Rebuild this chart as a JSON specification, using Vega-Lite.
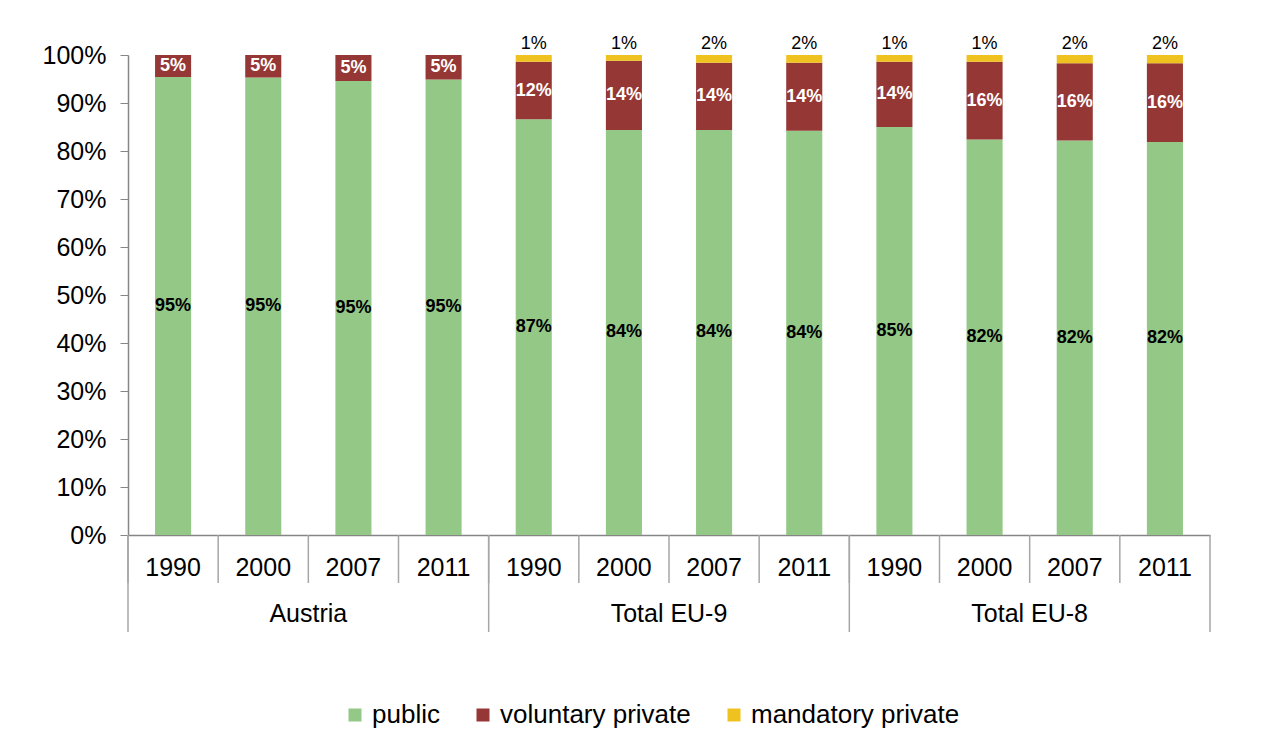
{
  "$schema": "https://vega.github.io/schema/vega-lite/v6.json",
  "width": 1082,
  "height": 480,
  "autosize": {"type": "none"},
  "padding": {"left": 128, "top": 55, "right": 59, "bottom": 208},
  "background": "white",
  "config": {
    "view": {"stroke": null},
    "font": "Liberation Sans",
    "text": {"font": "Liberation Sans"}
  },
  "data": {
    "values": [
      {"region": "Austria", "year": "1990", "type": "public", "value": 0.954},
      {"region": "Austria", "year": "1990", "type": "voluntary private", "value": 0.046},
      {"region": "Austria", "year": "2000", "type": "public", "value": 0.953},
      {"region": "Austria", "year": "2000", "type": "voluntary private", "value": 0.047},
      {"region": "Austria", "year": "2007", "type": "public", "value": 0.946},
      {"region": "Austria", "year": "2007", "type": "voluntary private", "value": 0.054},
      {"region": "Austria", "year": "2011", "type": "public", "value": 0.949},
      {"region": "Austria", "year": "2011", "type": "voluntary private", "value": 0.051},
      {"region": "Total EU-9", "year": "1990", "type": "public", "value": 0.866},
      {"region": "Total EU-9", "year": "1990", "type": "voluntary private", "value": 0.12},
      {"region": "Total EU-9", "year": "1990", "type": "mandatory private", "value": 0.014},
      {"region": "Total EU-9", "year": "2000", "type": "public", "value": 0.844},
      {"region": "Total EU-9", "year": "2000", "type": "voluntary private", "value": 0.144},
      {"region": "Total EU-9", "year": "2000", "type": "mandatory private", "value": 0.012},
      {"region": "Total EU-9", "year": "2007", "type": "public", "value": 0.844},
      {"region": "Total EU-9", "year": "2007", "type": "voluntary private", "value": 0.14},
      {"region": "Total EU-9", "year": "2007", "type": "mandatory private", "value": 0.016},
      {"region": "Total EU-9", "year": "2011", "type": "public", "value": 0.842},
      {"region": "Total EU-9", "year": "2011", "type": "voluntary private", "value": 0.142},
      {"region": "Total EU-9", "year": "2011", "type": "mandatory private", "value": 0.016},
      {"region": "Total EU-8", "year": "1990", "type": "public", "value": 0.85},
      {"region": "Total EU-8", "year": "1990", "type": "voluntary private", "value": 0.136},
      {"region": "Total EU-8", "year": "1990", "type": "mandatory private", "value": 0.014},
      {"region": "Total EU-8", "year": "2000", "type": "public", "value": 0.824},
      {"region": "Total EU-8", "year": "2000", "type": "voluntary private", "value": 0.162},
      {"region": "Total EU-8", "year": "2000", "type": "mandatory private", "value": 0.014},
      {"region": "Total EU-8", "year": "2007", "type": "public", "value": 0.822},
      {"region": "Total EU-8", "year": "2007", "type": "voluntary private", "value": 0.161},
      {"region": "Total EU-8", "year": "2007", "type": "mandatory private", "value": 0.017},
      {"region": "Total EU-8", "year": "2011", "type": "public", "value": 0.819},
      {"region": "Total EU-8", "year": "2011", "type": "voluntary private", "value": 0.164},
      {"region": "Total EU-8", "year": "2011", "type": "mandatory private", "value": 0.017}
    ]
  },
  "transform": [
    {"calculate": "datum.region + '|' + datum.year", "as": "key"},
    {"calculate": "indexof(['public','voluntary private','mandatory private'], datum.type)", "as": "ord"},
    {"stack": "value", "groupby": ["key"], "sort": [{"field": "ord", "order": "ascending"}], "as": ["v0", "v1"]},
    {"calculate": "(datum.v0 + datum.v1) / 2", "as": "mid"}
  ],
  "encoding": {
    "x": {
      "field": "key",
      "type": "nominal",
      "scale": {
        "domain": ["Austria|1990", "Austria|2000", "Austria|2007", "Austria|2011",
                   "Total EU-9|1990", "Total EU-9|2000", "Total EU-9|2007", "Total EU-9|2011",
                   "Total EU-8|1990", "Total EU-8|2000", "Total EU-8|2007", "Total EU-8|2011"],
        "paddingInner": 0,
        "paddingOuter": 0
      },
      "axis": {
        "title": null,
        "labelExpr": "split(datum.label, '|')[1]",
        "labelAngle": 0,
        "labelFontSize": 25,
        "labelColor": "#000000",
        "labelPadding": 20,
        "ticks": false,
        "domainColor": "#868686",
        "domainWidth": 1.5
      }
    }
  },
  "layer": [
    {
      "mark": {"type": "bar", "width": {"band": 0.4}},
      "encoding": {
        "y": {
          "field": "v0",
          "type": "quantitative",
          "scale": {"domain": [0, 1], "nice": false},
          "axis": {
            "title": null,
            "format": ".0%",
            "values": [0, 0.1, 0.2, 0.3, 0.4, 0.5, 0.6, 0.7, 0.8, 0.9, 1],
            "grid": false,
            "labelFontSize": 25,
            "labelColor": "#000000",
            "labelPadding": 14,
            "tickSize": 8,
            "tickColor": "#868686",
            "domainColor": "#868686",
            "domainWidth": 1.5
          }
        },
        "y2": {"field": "v1"},
        "color": {
          "field": "type",
          "type": "nominal",
          "sort": ["public", "voluntary private", "mandatory private"],
          "scale": {
            "domain": ["public", "voluntary private", "mandatory private"],
            "range": ["#93C887", "#953735", "#EFC21F"]
          },
          "legend": {
            "orient": "none",
            "direction": "horizontal",
            "legendX": 214,
            "legendY": 647,
            "title": null,
            "padding": 0,
            "labelFontSize": 26,
            "labelLimit": 500,
            "labelColor": "#000000",
            "labelOffset": 4,
            "symbolType": "square",
            "symbolSize": 169,
            "symbolStrokeWidth": 0,
            "columnPadding": 30,
            "gridAlign": "none"
          }
        }
      }
    },
    {
      "transform": [{"filter": "datum.type == 'public'"}],
      "mark": {"type": "text", "fontSize": 18, "fontWeight": "bold", "color": "#000000", "baseline": "middle"},
      "encoding": {
        "y": {"field": "mid", "type": "quantitative"},
        "text": {"field": "value", "type": "quantitative", "format": ".0%"}
      }
    },
    {
      "transform": [{"filter": "datum.type == 'voluntary private'"}],
      "mark": {"type": "text", "fontSize": 18, "fontWeight": "bold", "color": "#FFFFFF", "baseline": "middle"},
      "encoding": {
        "y": {"field": "mid", "type": "quantitative"},
        "text": {"field": "value", "type": "quantitative", "format": ".0%"}
      }
    },
    {
      "transform": [{"filter": "datum.type == 'mandatory private'"}],
      "mark": {"type": "text", "fontSize": 18, "color": "#000000", "baseline": "bottom", "dy": -2},
      "encoding": {
        "y": {"field": "v1", "type": "quantitative"},
        "text": {"field": "value", "type": "quantitative", "format": ".0%"}
      }
    },
    {
      "transform": [{"filter": "datum.type == 'public'"}],
      "mark": {"type": "rule", "color": "#A6A6A6", "strokeWidth": 1.5},
      "encoding": {
        "x": {"field": "key", "type": "nominal", "bandPosition": 0},
        "y": {"datum": 0},
        "y2": {"datum": -0.1}
      }
    },
    {
      "transform": [{"filter": "datum.type == 'public' && datum.year == '1990'"}],
      "mark": {"type": "rule", "color": "#A6A6A6", "strokeWidth": 1.5},
      "encoding": {
        "x": {"field": "key", "type": "nominal", "bandPosition": 0},
        "y": {"datum": 0},
        "y2": {"datum": -0.202}
      }
    },
    {
      "transform": [{"filter": "datum.type == 'public' && datum.key == 'Total EU-8|2011'"}],
      "mark": {"type": "rule", "color": "#A6A6A6", "strokeWidth": 1.5},
      "encoding": {
        "x": {"field": "key", "type": "nominal", "bandPosition": 1},
        "y": {"datum": 0},
        "y2": {"datum": -0.202}
      }
    },
    {
      "transform": [{"filter": "datum.type == 'public' && datum.year == '2000'"}],
      "mark": {"type": "text", "fontSize": 25, "color": "#000000", "baseline": "middle"},
      "encoding": {
        "x": {"field": "key", "type": "nominal", "bandPosition": 1},
        "y": {"datum": -0.165},
        "text": {"field": "region"}
      }
    }
  ]
}
